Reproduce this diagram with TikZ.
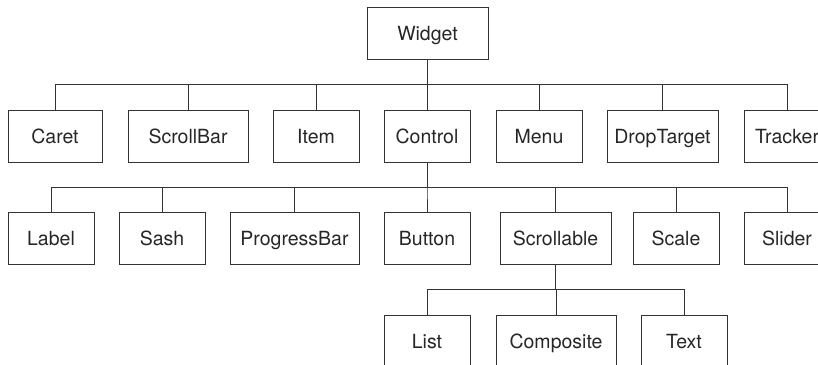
\documentclass[tikz,border=0pt]{standalone}
\usepackage{fontspec}
\setmainfont{TeX Gyre Heros}
\usepackage{xcolor}

\begin{document}
\begin{tikzpicture}[x=1pt, y=-1pt,
  cls/.style={draw=black!80, line width=1pt, text=black!85, minimum height=52pt, minimum width=86pt, inner sep=0pt, text height=14pt, text depth=0pt, font=\fontsize{19.5}{23}\selectfont},
  link/.style={draw=black!80, line width=1pt}]
\clip (0,0) rectangle (818,364);

% Root
\node[cls, minimum width=121pt] (widget) at (427.5,33) {Widget};

% First level
\node[cls, minimum width=94pt] (caret) at (55,136) {Caret};
\node[cls, minimum width=120pt] (scrollbar) at (188,136) {ScrollBar};
\node[cls] (item) at (316,136) {Item};
\node[cls] (control) at (427,136) {Control};
\node[cls] (menu) at (539,136) {Menu};
\node[cls, minimum width=111pt] (droptarget) at (662.5,136) {DropTarget};
\node[cls] (tracker) at (787,136) {Tracker};

% Second level
\node[cls] (label) at (51,238.5) {Label};
\node[cls] (sash) at (162,238.5) {Sash};
\node[cls, minimum width=129pt] (progressbar) at (294.5,238.5) {ProgressBar};
\node[cls] (button) at (427,238.5) {Button};
\node[cls, minimum width=111pt] (scrollable) at (555.5,238.5) {Scrollable};
\node[cls] (scale) at (676,238.5) {Scale};
\node[cls] (slider) at (787,238.5) {Slider};

% Third level
\node[cls] (list) at (427,341) {List};
\node[cls, minimum width=120pt] (composite) at (556,341) {Composite};
\node[cls] (text) at (684,341) {Text};

% Buses
\coordinate (bus1) at (0,84);
\coordinate (bus2) at (0,187);
\coordinate (bus3) at (0,289);

% Connectors
\foreach \c in {caret,scrollbar,item,control,menu,droptarget,tracker}
  \draw[link] (widget.south) -- (widget.south |- bus1) -| (\c.north);
\foreach \c in {label,sash,progressbar,button,scrollable,scale,slider}
  \draw[link] (control.south) -- (control.south |- bus2) -| (\c.north);
\foreach \c in {list,composite,text}
  \draw[link] (scrollable.south) -- (scrollable.south |- bus3) -| (\c.north);
\end{tikzpicture}
\end{document}
